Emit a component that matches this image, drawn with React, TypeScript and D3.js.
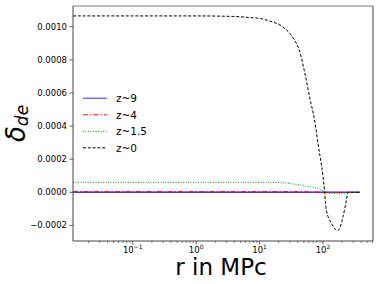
import React, { useRef, useEffect } from 'react';
import * as d3 from 'd3';

// r grid (MPc) shared by all series
const rValues = [0.0114, 0.1, 1, 3, 5, 7, 10, 14, 23, 34, 43, 51, 62, 74, 83, 100, 106, 113, 136, 172, 207, 234, 248, 300, 380];

const z9 = [0, 0, 0, 0, 0, 0, 0, 0, 0, 0, 0, 0, 0, 0, 0, 0, 0, 0, 0, 0, 0, 0, 0, 0, 0];
const z4 = [0.000004, 0.000004, 0.000004, 0.000004, 0.000004, 0.000004, 0.000004, 0.000004, 0.000004, 0.0000038, 0.0000035, 0.000003, 0.0000026, 0.000002, 0.0000015, 0.0000005, 0, 0, 0, 0, 0, 0, 0, 0, 0];
const z15 = [0.00006, 0.00006, 0.00006, 0.00006, 0.00006, 0.00006, 0.00006, 0.00006, 0.000058, 0.00005, 0.000044, 0.00004, 0.000034, 0.000028, 0.000022, 0.000008, 0.000001, -0.000003, -0.000006, -0.000008, -0.000006, -0.000003, 0, 0, 0];
const z0 = [0.001065, 0.001065, 0.001065, 0.001063, 0.00106, 0.001055, 0.00105, 0.001035, 0.001, 0.00093, 0.00085, 0.00073, 0.00057, 0.00043, 0.0003, 0.000094, 0.000004, -0.000107, -0.000187, -0.000232, -0.000147, -0.000047, 0, 0, 0];

const seriesNames = ['z~9', 'z~4', 'z~1.5', 'z~0'];
const seriesData = [z9, z4, z15, z0];
const seriesColors = ['#3838ff', '#ff0000', '#00a000', '#000000'];
const seriesDash = ['', '5,2,1.5,2', '1,1.5', '3,1.8'];
const seriesWidth = [1.5, 1, 1, 1];

const yTicks = [-0.0002, 0, 0.0002, 0.0004, 0.0006, 0.0008, 0.001];
const xTicks = [-1, 0, 1, 2];

const App = () => {
  const svgRef = useRef(null);
  useEffect(() => {
    d3.select(svgRef.current).selectAll('*').remove();
    const svg = d3.select(svgRef.current);
    const margin = { top: 6, right: 6, bottom: 43, left: 73 };
    const W = 379, H = 284;
    const pw = W - margin.left - margin.right;
    const ph = H - margin.top - margin.bottom;
    const font = 'DejaVu Sans, sans-serif';

    const x = d3.scaleLog().domain([0.0114, 615]).range([0, pw]);
    const y = d3.scaleLinear().domain([-0.000294, 0.001125]).range([ph, 0]);

    const g = svg.append('g').attr('transform', `translate(${margin.left},${margin.top})`);

    g.append('clipPath').attr('id', 'plotclip')
      .append('rect').attr('width', pw).attr('height', ph);

    // lines
    const line = d3.line<number>()
      .x((d, i) => x(rValues[i]))
      .y((d) => y(d))
      .curve(d3.curveMonotoneX);

    seriesData.forEach((vals, k) => {
      g.append('path')
        .datum(vals)
        .attr('clip-path', 'url(#plotclip)')
        .attr('fill', 'none')
        .attr('stroke', seriesColors[k])
        .attr('stroke-width', seriesWidth[k])
        .attr('stroke-dasharray', seriesDash[k] || null)
        .attr('d', line);
    });

    // frame
    g.append('line').attr('x1', 0).attr('x2', pw).attr('y1', 0).attr('y2', 0)
      .attr('stroke', '#aaa').attr('stroke-width', 1.5);
    g.append('line').attr('x1', 0).attr('x2', 0).attr('y1', 0).attr('y2', ph)
      .attr('stroke', '#444').attr('stroke-width', 1);
    g.append('line').attr('x1', pw).attr('x2', pw).attr('y1', 0).attr('y2', ph)
      .attr('stroke', '#444').attr('stroke-width', 1);
    g.append('line').attr('x1', 0).attr('x2', pw).attr('y1', ph).attr('y2', ph)
      .attr('stroke', '#444').attr('stroke-width', 1);

    // y axis
    yTicks.forEach((t) => {
      const yy = y(t);
      g.append('line').attr('x1', -3.5).attr('x2', 0).attr('y1', yy).attr('y2', yy)
        .attr('stroke', '#333').attr('stroke-width', 0.8);
      g.append('text')
        .attr('x', -6).attr('y', yy + 3)
        .attr('text-anchor', 'end')
        .style('font-family', font).style('font-size', '8.5px')
        .text(t < 0 ? '\u2212' + Math.abs(t).toFixed(4) : t.toFixed(4));
    });

    // x axis: major and minor ticks
    for (let e = -2; e <= 2; e++) {
      for (let m = 1; m < 10; m++) {
        const v = m * Math.pow(10, e);
        if (v < 0.0114 || v > 615) continue;
        const xx = x(v);
        const major = m === 1;
        g.append('line').attr('x1', xx).attr('x2', xx).attr('y1', ph).attr('y2', ph + (major ? 3.5 : 2))
          .attr('stroke', '#333').attr('stroke-width', major ? 0.8 : 0.6);
      }
    }
    xTicks.forEach((e) => {
      const t = g.append('text')
        .attr('x', x(Math.pow(10, e))).attr('y', ph + 11.5)
        .attr('text-anchor', 'middle')
        .style('font-family', font).style('font-size', '8.5px');
      t.append('tspan').text('10');
      t.append('tspan').attr('dy', -3.5).style('font-size', '6px')
        .text(e < 0 ? '\u2212' + Math.abs(e) : String(e));
    });

    // axis labels
    svg.append('text')
      .attr('x', margin.left + pw / 2 - 2).attr('y', 275)
      .attr('text-anchor', 'middle')
      .style('font-family', font).style('font-size', '23px')
      .text('r in MPc');

    const yl = svg.append('text')
      .attr('transform', `translate(25,${margin.top + ph / 2}) rotate(-90)`)
      .attr('text-anchor', 'middle')
      .style('font-family', font).style('font-size', '26px');
    yl.append('tspan').style('font-style', 'italic').text('\u03b4');
    yl.append('tspan').attr('dy', 3).style('font-style', 'italic').style('font-size', '17px').text('de');

    // legend
    const leg = svg.append('g').attr('transform', 'translate(83,98.3)');
    seriesNames.forEach((name, k) => {
      const yy = k * 16.5;
      leg.append('line').attr('x1', 0).attr('x2', 24).attr('y1', yy).attr('y2', yy)
        .attr('stroke', seriesColors[k])
        .attr('stroke-width', seriesWidth[k])
        .attr('stroke-opacity', k === 0 ? 0.7 : 1)
        .attr('stroke-dasharray', seriesDash[k] || null);
      leg.append('text').attr('x', 33).attr('y', yy + 3.8)
        .style('font-family', font).style('font-size', '10.5px')
        .text(name);
    });
  }, []);

  return (
    <svg ref={svgRef} width={379} height={284}
      style={{ position: 'absolute', left: 0, top: 0, background: '#fff' }}></svg>
  );
};

export default App;
